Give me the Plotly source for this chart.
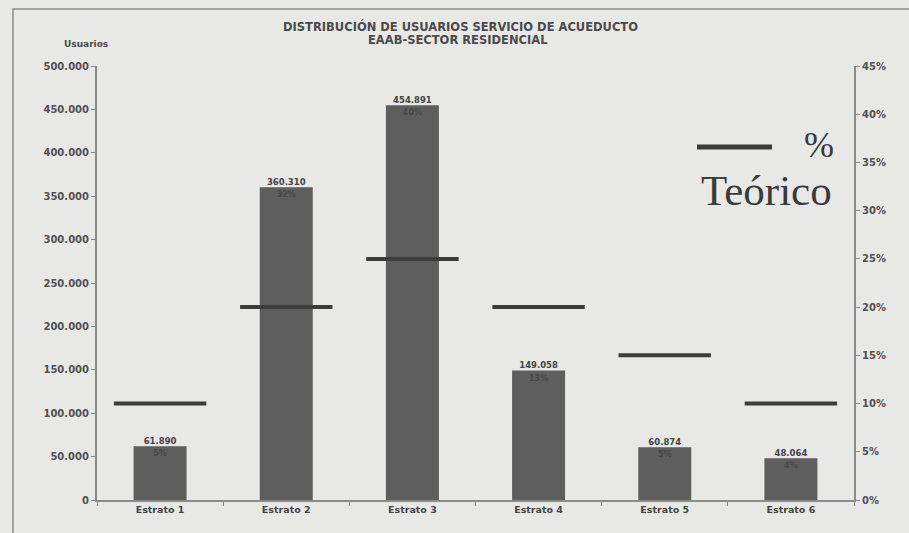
import plotly.graph_objects as go

# Residential water-service users by socioeconomic stratum (EAAB)
estratos = ["Estrato 1", "Estrato 2", "Estrato 3", "Estrato 4", "Estrato 5", "Estrato 6"]
usuarios = [61890, 360310, 454891, 149058, 60874, 48064]
usuarios_txt = ["61.890", "360.310", "454.891", "149.058", "60.874", "48.064"]
porcentaje_txt = ["5%", "32%", "40%", "13%", "5%", "4%"]
teorico = [0.10, 0.20, 0.25, 0.20, 0.15, 0.10]

W, H = 909, 533
L, R, T, B = 97, 55, 66, 33
pw, ph = W - L - R, H - T - B


def px(x):
    return (x - L) / pw


def py(y):
    return (H - B - y) / ph


bg = "#e8e8e6"
bar_col = "#5e5e5e"
ink = "#3c3c3c"
sans = "DejaVu Sans, Arial"
serif = "Liberation Serif, Times New Roman"
tick_font = dict(family=sans, size=10, color="#505050", weight="bold")

fig = go.Figure()

fig.add_trace(go.Bar(
    x=estratos, y=usuarios, width=0.42,
    marker=dict(color=bar_col, line=dict(width=0)),
    text=porcentaje_txt, textposition="inside", insidetextanchor="end",
    textfont=dict(family=sans, size=8, color="#484848", weight="bold"),
    textangle=0, showlegend=False, hoverinfo="skip",
))

fig.add_trace(go.Scatter(
    x=estratos, y=usuarios, mode="text", text=usuarios_txt,
    textposition="top center",
    textfont=dict(family=sans, size=8.5, color="#444444", weight="bold"),
    showlegend=False, hoverinfo="skip", cliponaxis=False,
))

# theoretical share per stratum, drawn as a wide horizontal dash
fig.add_trace(go.Scatter(
    x=estratos, y=teorico, yaxis="y2", mode="markers",
    marker=dict(symbol="line-ew", size=66, line=dict(width=4, color=ink)),
    showlegend=False, hoverinfo="skip", cliponaxis=False,
))

axis_line = dict(showline=True, linecolor="#8a8a8a", linewidth=2)

fig.update_layout(
    width=W, height=H,
    margin=dict(l=L, r=R, t=T, b=B),
    paper_bgcolor=bg, plot_bgcolor=bg,
    separators=",.",
    showlegend=False,
    xaxis=dict(
        type="category", range=[-0.5, 5.5], tickson="boundaries",
        ticks="outside", ticklen=4, tickcolor="#8a8a8a",
        tickfont=dict(family=sans, size=9.5, color="#444444", weight="bold"),
        showgrid=False, **axis_line,
    ),
    yaxis=dict(
        range=[0, 500000], dtick=50000, tickformat=",d",
        ticks="outside", ticklen=4, tickcolor="#8a8a8a",
        tickfont=tick_font, showgrid=False, zeroline=False, **axis_line,
    ),
    yaxis2=dict(
        range=[0, 0.45], dtick=0.05, tickformat=".0%", overlaying="y", side="right",
        ticks="outside", ticklen=4, tickcolor="#8a8a8a",
        tickfont=tick_font, showgrid=False, zeroline=False, **axis_line,
    ),
    font=dict(family=sans, color="#444444"),
)

# frame around the chart
fig.add_shape(type="rect", xref="paper", yref="paper",
              x0=px(13), x1=px(W + 5), y0=py(H + 5), y1=py(9),
              line=dict(color="#8c8c8c", width=1.5), layer="below")


def label(x, y, text, **font):
    fig.add_annotation(xref="paper", yref="paper", x=px(x), y=py(y),
                       xanchor="center", yanchor="middle",
                       text=text, showarrow=False, font=font)


# titles
label(460, 27, "<b>DISTRIBUCIÓN DE USUARIOS SERVICIO DE ACUEDUCTO</b>",
      family=sans, size=11.5, color="#4a4a4a")
label(458, 40, "<b>EAAB-SECTOR RESIDENCIAL</b>",
      family=sans, size=11.5, color="#4a4a4a")
label(86, 44, "<b>Usuarios</b>", family=sans, size=9, color="#4a4a4a")

# legend for the theoretical percentage
fig.add_shape(type="line", xref="paper", yref="paper",
              x0=px(697), x1=px(772), y0=py(147), y1=py(147),
              line=dict(color=ink, width=5))
label(819, 145, "%", family=serif, size=36, color="#3a3a3a")
label(766, 190, "Teórico", family=serif, size=43, color="#3a3a3a")

fig.write_html("out.html")
